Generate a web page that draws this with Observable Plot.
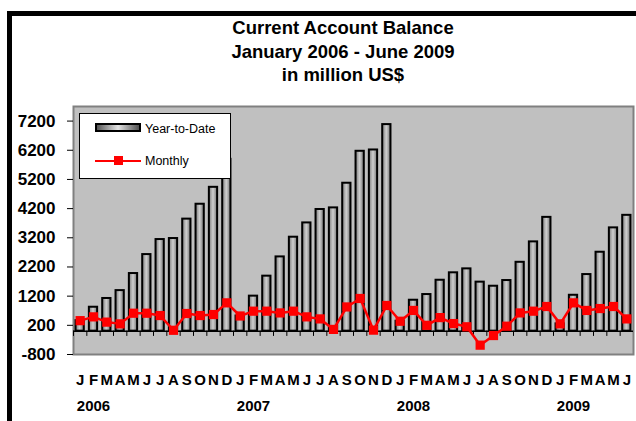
<!DOCTYPE html>
<html>
<head>
<meta charset="utf-8">
<script src="https://cdn.jsdelivr.net/npm/d3@7"></script>
<script src="https://cdn.jsdelivr.net/npm/@observablehq/plot@0.6"></script>
<style>
  html, body { margin: 0; padding: 0; background: #fff; }
  #wrap { position: relative; width: 636px; height: 421px; overflow: hidden; background: #fff;
          font-family: "Liberation Sans", Arial, sans-serif; }
  #frameTop { position: absolute; left: 7px; top: 11px; width: 640px; height: 5px; background: #000; }
  #frameLeft { position: absolute; left: 7px; top: 11px; width: 5px; height: 420px; background: #000; }
  #title { position: absolute; left: 143px; top: 16px; width: 400px; text-align: center;
           font-weight: bold; font-size: 18.5px; line-height: 23.5px; color: #000; }
  #chart { position: absolute; left: 0; top: 100px; }
  #legend { position: absolute; left: 79px; top: 113px; width: 152px; height: 66px; box-sizing: border-box;
            border: 1px solid #000; background: #fff; z-index: 5; }
  .lg { position: absolute; }
  .lt { position: absolute; font-size: 12.5px; line-height: 16px; color: #000; white-space: nowrap; }
</style>
</head>
<body>
<div id="wrap">
  <div id="frameTop"></div>
  <div id="frameLeft"></div>
  <div id="title">Current Account Balance<br>January 2006 - June 2009<br>in million US$</div>
  <div id="chart"></div>
  <div id="legend"></div>
</div>
<script>
// ---- data ----
const years = [2006, 2007, 2008, 2009];
const monthLetters = ["J","F","M","A","M","J","J","A","S","O","N","D"];
const ytd2006 = [360, 820, 1120, 1390, 1975, 2625, 3140, 3175, 3840, 4350, 4930, 5890];
const ytd2007 = [520, 1200, 1885, 2545, 3220, 3710, 4170, 4225, 5070, 6165, 6210, 7080];
const ytd2008 = [340, 1060, 1255, 1745, 2000, 2135, 1680, 1540, 1735, 2360, 3060, 3900];
const ytd2009 = [250, 1230, 1940, 2705, 3540, 3970];
const monthly2006 = [360, 490, 310, 250, 615, 615, 535, 30, 605, 535, 570, 970];
const monthly2007 = [520, 685, 685, 625, 685, 490, 420, 60, 830, 1120, 35, 880];
const monthly2008 = [340, 710, 200, 465, 260, 150, -480, -150, 170, 625, 685, 845];
const monthly2009 = [250, 970, 710, 775, 845, 420];
const yTicks = [-800, 200, 1200, 2200, 3200, 4200, 5200, 6200, 7200];
const seriesNames = ["Year-to-Date", "Monthly"];

// ---- build table ----
const ytdByYear = [ytd2006, ytd2007, ytd2008, ytd2009];
const monByYear = [monthly2006, monthly2007, monthly2008, monthly2009];
const rows = [];
years.forEach((yr, i) => {
  ytdByYear[i].forEach((v, m) => {
    rows.push({key: `${yr}-${String(m + 1).padStart(2, "0")}`, year: yr, m, ytd: v, monthly: monByYear[i][m]});
  });
});
const keys = rows.map(d => d.key);
const letterOf = new Map(rows.map(d => [d.key, monthLetters[d.m]]));
const yearLabels = years.map(y => ({key: `${y}-02`, label: String(y)}));

const W = 636, H = 321;
const mL = 73, mR = 3;
const step = (W - mL - mR) / keys.length;

const svg = Plot.plot({
  width: W,
  height: H,
  marginLeft: mL,
  marginRight: mR,
  marginTop: 6,
  marginBottom: 67,
  style: {fontFamily: "'Liberation Sans', Arial, sans-serif", background: "transparent", color: "#000"},
  x: {domain: keys, paddingInner: 0.38, paddingOuter: 0.19, round: false, axis: null},
  y: {domain: [-800, 7700], axis: null},
  marks: [
    Plot.frame({fill: "#c0c0c0", stroke: "#808080", strokeWidth: 2}),
    Plot.barY(rows, {x: "key", y: "ytd", fill: "url(#barGrad)", stroke: "#000", strokeWidth: 2}),
    Plot.ruleY([0], {stroke: "#000", strokeWidth: 1.5}),
    Plot.ruleX(keys, {x: d => d, y1: 0, y2: -180, dx: -step / 2, stroke: "#000", strokeWidth: 1}),
    Plot.line(rows, {x: "key", y: "monthly", stroke: "#ff0000", strokeWidth: 2.5}),
    Plot.dot(rows, {x: "key", y: "monthly", symbol: "square", r: 5.2, fill: "#ff0000", stroke: "none"}),
    Plot.axisX({tickSize: 0, tickPadding: 20, tickFormat: d => letterOf.get(d), label: null, fontSize: 15, fontWeight: "bold"}),
    Plot.text(yearLabels, {x: "key", text: "label", frameAnchor: "bottom", dy: 56, fontSize: 15, fontWeight: "bold", fill: "#000"}),
    Plot.axisY({ticks: yTicks, tickSize: 6, tickPadding: 12, tickFormat: d => String(d), label: null, fontSize: 17, fontWeight: "bold", line: true, stroke: "#000"})
  ]
});
svg.insertAdjacentHTML("afterbegin",
  `<defs><linearGradient id="barGrad" x1="0" x2="1" y1="0" y2="0">
     <stop offset="0" stop-color="#7a7a7a"/><stop offset="0.5" stop-color="#cfcfcf"/><stop offset="1" stop-color="#747474"/>
   </linearGradient></defs>`);
document.getElementById("chart").appendChild(svg);

// ---- legend (HTML, page coords relative to wrap) ----
const lg = document.getElementById("legend");
const ox = 79, oy = 113;
function el(cls, css, html) { const d = document.createElement("div"); d.className = cls; d.style.cssText = css; if (html) d.textContent = html; lg.appendChild(d); }
el("lg", `left:${95-ox-1}px;top:${123-oy-1}px;width:46px;height:9px;box-sizing:border-box;border:2px solid #000;background:linear-gradient(to right,#555,#e4e4e4 50%,#505050);`);
el("lt", `left:${145-ox-1}px;top:${121-oy-1}px;`, seriesNames[0]);
el("lg", `left:${95-ox-1}px;top:${159.5-oy-1}px;width:46px;height:2px;background:#ff0000;`);
el("lg", `left:${113.5-ox-1}px;top:${156-oy-1}px;width:9px;height:9px;background:#ff0000;`);
el("lt", `left:${145-ox-1}px;top:${153-oy-1}px;`, seriesNames[1]);
</script>
</body>
</html>
